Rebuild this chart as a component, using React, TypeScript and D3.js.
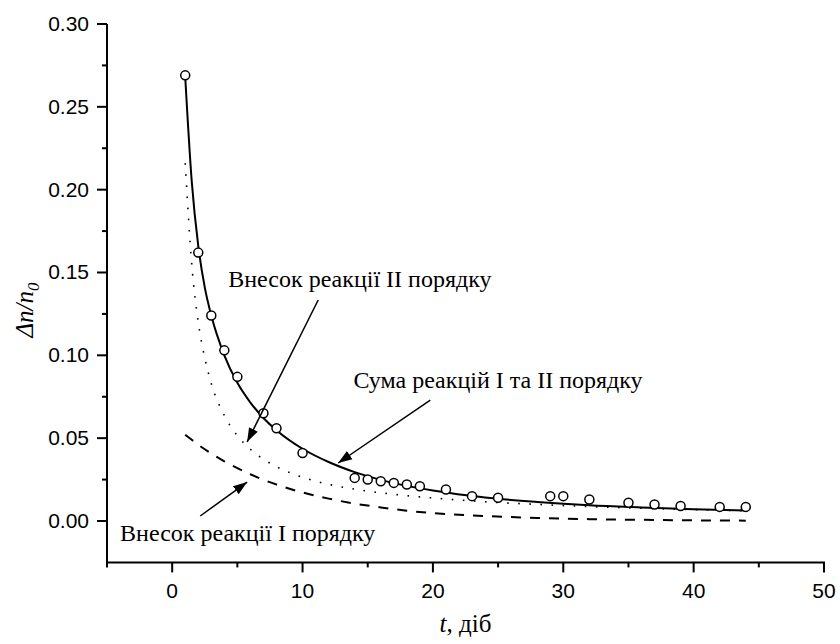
import React from "react";
import * as d3 from "d3";

// експериментальні точки
const tExp = [1, 2, 3, 4, 5, 7, 8, 10, 14, 15, 16, 17, 18, 19, 21, 23, 25, 29, 30, 32, 35, 37, 39, 42, 44];
const vExp = [0.269, 0.162, 0.124, 0.103, 0.087, 0.065, 0.056, 0.041, 0.026, 0.025, 0.024, 0.023, 0.022, 0.021, 0.019, 0.015, 0.014, 0.015, 0.015, 0.013, 0.011, 0.010, 0.009, 0.0085, 0.0085];

// розрахункові криві
const tFit = [1, 1.5, 2, 2.5, 3, 4, 5, 6, 7, 8, 10, 12, 14, 16, 18, 20, 24, 28, 32, 36, 40, 44];
const vSum = [0.268, 0.205, 0.166, 0.141, 0.124, 0.1, 0.0834, 0.0715, 0.0622, 0.0548, 0.0436, 0.0356, 0.0295, 0.0248, 0.0212, 0.0184, 0.0142, 0.0115, 0.0095, 0.0082, 0.0071, 0.0064];
const vSecond = [0.216, 0.155, 0.12, 0.0985, 0.083, 0.0637, 0.0515, 0.0433, 0.0373, 0.0328, 0.0264, 0.0221, 0.0192, 0.0170, 0.0153, 0.0139, 0.0116, 0.0100, 0.0087, 0.0077, 0.0069, 0.0062];
const vFirst = [0.052, 0.049, 0.046, 0.0433, 0.0407, 0.036, 0.0319, 0.0282, 0.0249, 0.022, 0.0172, 0.0135, 0.0105, 0.0082, 0.0062, 0.0048, 0.003, 0.0018, 0.0011, 0.0007, 0.0004, 0.0002];

const xMajor = [0, 10, 20, 30, 40, 50];
const xMinor = [-5, 5, 15, 25, 35, 45];
const yMajor = [0, 0.05, 0.1, 0.15, 0.2, 0.25, 0.3];
const yMinor = [0.025, 0.075, 0.125, 0.175, 0.225, 0.275];

// підписи: текст (tx, ty), стрілка від (x1, y1) до (x2, y2), все в одиницях даних
const notes = [
  { text: "Внесок реакції II порядку", tx: 4.3, ty: 0.1412, x1: 11.2, y1: 0.1334, x2: 5.75, y2: 0.0477 },
  { text: "Сума реакцій І та ІІ порядку", tx: 13.9, ty: 0.0803, x1: 19.8, y1: 0.073, x2: 12.73, y2: 0.035 },
  { text: "Внесок реакції І порядку", tx: -4.0, ty: -0.0121, x1: 2.15, y1: 0.003, x2: 5.75, y2: 0.0235 },
];

const W = 840;
const H = 644;

export default function App() {
  const x = d3.scaleLinear().domain([-5, 50]).range([107, 824]);
  const y = d3.scaleLinear().domain([-0.025, 0.3]).range([562.4, 24]);

  const line = (vals: number[]) =>
    d3
      .line<number>()
      .x((_, i) => x(tFit[i]))
      .y((d) => y(d))
      .curve(d3.curveMonotoneX)(vals) || "";

  const serif = "Liberation Serif, Times New Roman, serif";
  const sans = "Liberation Sans, Arial, sans-serif";

  return (
    <svg width={W} height={H} style={{ position: "absolute", left: 0, top: 0, background: "#fff" }}>
      <defs>
        <marker id="ah" viewBox="0 0 10 10" refX="10" refY="5" markerWidth="14" markerHeight="14" markerUnits="userSpaceOnUse" orient="auto">
          <path d="M0,1.5 L10,5 L0,8.5 Z" fill="#000" />
        </marker>
      </defs>
      <rect width={W} height={H} fill="#fff" />

      {/* криві */}
      <path d={line(vFirst)} fill="none" stroke="#000" strokeWidth={2} strokeDasharray="10,9" />
      <path d={line(vSecond)} fill="none" stroke="#000" strokeWidth={1.6} strokeDasharray="1.6,9.5" />
      <path d={line(vSum)} fill="none" stroke="#000" strokeWidth={2} />

      {tExp.map((t, i) => (
        <circle key={i} cx={x(t)} cy={y(vExp[i])} r={4.5} fill="#fff" stroke="#000" strokeWidth={1.5} />
      ))}

      {/* осі */}
      <g stroke="#000" strokeWidth={2}>
        <line x1={x(-5)} x2={x(-5)} y1={y(0.3)} y2={y(-0.025) + 1} />
        <line x1={x(-5) - 1} x2={x(50) + 1} y1={y(-0.025)} y2={y(-0.025)} />
        {yMajor.map((v) => (
          <line key={v} x1={x(-5) - 10} x2={x(-5)} y1={y(v)} y2={y(v)} />
        ))}
        {yMinor.map((v) => (
          <line key={v} x1={x(-5) - 5} x2={x(-5)} y1={y(v)} y2={y(v)} />
        ))}
        {xMajor.map((t) => (
          <line key={t} x1={x(t)} x2={x(t)} y1={y(-0.025)} y2={y(-0.025) + 10} />
        ))}
        {xMinor.map((t) => (
          <line key={t} x1={x(t)} x2={x(t)} y1={y(-0.025)} y2={y(-0.025) + 5} />
        ))}
      </g>
      <g fontFamily={sans} fontSize={21} fill="#000">
        {yMajor.map((v) => (
          <text key={v} x={x(-5) - 18} y={y(v) + 7} textAnchor="end">
            {v.toFixed(2)}
          </text>
        ))}
        {xMajor.map((t) => (
          <text key={t} x={x(t)} y={598} textAnchor="middle">
            {t}
          </text>
        ))}
      </g>

      {/* назви осей */}
      <text transform="translate(33,310) rotate(-90)" textAnchor="middle" fontFamily={serif} fontSize={25} fontStyle="italic">
        Δn/n<tspan fontSize={17} dy={6}>0</tspan>
      </text>
      <text x={(x(-5) + x(50)) / 2} y={632} textAnchor="middle" fontFamily={serif} fontSize={25}>
        <tspan fontStyle="italic">t</tspan>, діб
      </text>

      {/* підписи зі стрілками */}
      {notes.map((n, i) => (
        <g key={i}>
          <text x={x(n.tx)} y={y(n.ty)} fontFamily={serif} fontSize={24}>
            {n.text}
          </text>
          <line x1={x(n.x1)} y1={y(n.y1)} x2={x(n.x2)} y2={y(n.y2)} stroke="#000" strokeWidth={1.5} markerEnd="url(#ah)" />
        </g>
      ))}
    </svg>
  );
}
